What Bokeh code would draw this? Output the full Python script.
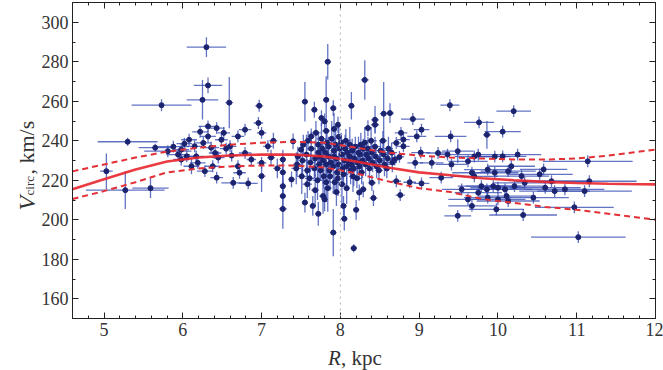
import numpy as np
from bokeh.plotting import figure
from bokeh.layouts import row, column
from bokeh.models import (ColumnDataSource, LinearAxis, SingleIntervalTicker, Span, Range1d,
                          CustomJSTickFormatter)
from bokeh.core.properties import value
from bokeh.embed import file_html
from bokeh.resources import INLINE

# ---------------- data ----------------
# outer-left group
R_left = [5.03, 5.27, 5.30, 5.59, 5.65, 5.73, 5.81, 5.88, 5.94, 5.98, 5.98, 6.02, 6.05, 6.08,
          6.11, 6.15, 6.17, 6.19, 6.22, 6.25, 6.26, 6.28, 6.30, 6.32, 6.32, 6.32, 6.36, 6.38,
          6.41, 6.43, 6.43, 6.45, 6.49, 6.52, 6.55, 6.59, 6.60, 6.62, 6.64, 6.70, 6.70, 6.72,
          6.79, 6.79, 6.83, 6.87, 6.96, 6.97, 7.00, 7.00, 7.00, 7.08, 7.12, 7.15, 7.20]
V_left = [224.6, 215.0, 239.5, 216.0, 236.5, 258.0, 234.7, 237.0, 233.0, 235.5, 230.5, 238.5, 232.1, 240.5,
          227.1, 237.2, 232.1, 228.8, 244.5, 260.7, 238.9, 224.6, 287.4, 268.0, 247.3, 242.2, 236.5, 227.1,
          233.8, 246.4, 221.3, 231.5, 240.5, 244.0, 236.0, 259.3, 237.2, 232.5, 218.7, 242.2, 227.1, 223.8,
          245.6, 233.8, 218.4, 230.5, 249.0, 257.7, 244.0, 228.8, 222.1, 237.2, 231.5, 240.0, 226.0]
eR_left = [0.08, 0.50, 0.38, 0.23, 0.21, 0.38, 0.30, 0.20, 0.15, 0.10, 0.10, 0.10, 0.12, 0.10,
           0.10, 0.10, 0.10, 0.10, 0.10, 0.20, 0.10, 0.10, 0.25, 0.18, 0.12, 0.10, 0.10, 0.10,
           0.08, 0.10, 0.08, 0.08, 0.08, 0.08, 0.08, 0.05, 0.08, 0.08, 0.15, 0.08, 0.08, 0.08,
           0.08, 0.08, 0.12, 0.06, 0.06, 0.05, 0.06, 0.06, 0.05, 0.06, 0.05, 0.05, 0.05]
eV_left = [9, 9.5, 2, 5, 2, 3, 3, 3, 3, 3, 3, 3, 3, 3,
           4, 3, 3, 3, 3, 10, 3, 3, 5, 4, 3, 3, 3, 3,
           3, 3, 3, 3, 3, 3, 3, 13, 3, 3, 3, 3, 3, 3,
           3, 3, 3, 3, 3, 3, 3, 3, 8, 3, 4, 4, 5]

# solar-circle group (outliers and column at 7.3 kpc)
R_mid = [7.27, 7.27, 7.27, 7.27, 7.27, 7.38, 7.40, 7.50, 7.55, 7.55, 7.63, 7.65, 7.67, 7.72,
         7.76, 7.80, 7.80, 7.82, 7.84, 7.91, 7.91, 7.97, 8.04, 8.05, 8.14, 8.17, 8.20, 8.24,
         8.29, 8.31, 8.35, 8.40, 8.42, 8.44, 8.44, 8.55, 8.63]
V_mid = [230.5, 224.0, 217.0, 212.0, 205.5, 220.4, 239.7, 235.5, 259.8, 208.7, 242.2, 207.0, 255.7, 203.0,
         251.5, 249.8, 210.3, 260.7, 280.0, 256.5, 193.5, 248.1, 207.0, 200.5, 257.7, 185.6, 205.0, 213.8,
         215.4, 270.8, 246.4, 218.7, 211.0, 250.6, 248.1, 253.7, 254.0]
eR_mid = [0.04, 0.04, 0.04, 0.04, 0.05, 0.04, 0.04, 0.04, 0.04, 0.04, 0.04, 0.04, 0.04, 0.04,
          0.04, 0.04, 0.04, 0.04, 0.04, 0.04, 0.04, 0.04, 0.04, 0.04, 0.04, 0.04, 0.04, 0.04,
          0.04, 0.05, 0.05, 0.05, 0.05, 0.05, 0.05, 0.05, 0.05]
eV_mid = [5, 6, 6, 8, 10, 4, 4, 4, 10, 5, 4, 5, 4, 6,
          4, 4, 6, 12, 9, 4, 12, 4, 5, 6, 7, 2, 5, 4,
          4, 10, 4, 4, 4, 7, 4, 16, 5]

# dense blob near R0
R_blob = [7.45, 7.46, 7.44, 7.52, 7.53, 7.51, 7.58, 7.57, 7.59, 7.58, 7.62, 7.63, 7.61,
          7.68, 7.67, 7.69, 7.68, 7.72, 7.73, 7.71, 7.72, 7.75, 7.76, 7.74, 7.78, 7.79, 7.77, 7.78,
          7.82, 7.81, 7.83, 7.82, 7.82, 7.85, 7.86, 7.84, 7.85, 7.88, 7.89, 7.87,
          7.92, 7.91, 7.93, 7.92, 7.92, 7.95, 7.96, 7.94, 7.95, 7.98, 7.99, 7.97, 7.98,
          8.02, 8.03, 8.01, 8.02, 8.05, 8.06, 8.04, 8.08, 8.09, 8.07, 8.08,
          8.12, 8.13, 8.11, 8.12, 8.15, 8.16, 8.14, 8.18, 8.19, 8.17, 8.22, 8.23, 8.21,
          8.25, 8.26, 8.24, 8.28, 8.29, 8.27, 8.32, 8.33, 8.31, 8.36, 8.37, 8.35,
          8.40, 8.41, 8.39, 8.45, 8.46, 8.44, 8.50, 8.51, 8.49, 8.55, 8.56, 8.54,
          8.60, 8.61, 8.59, 8.65, 8.66]
V_blob = [228, 232, 226, 230, 238, 222, 225, 233, 240, 218, 229, 236, 221,
          231, 226, 244, 215, 234, 228, 220, 238, 225, 241, 232, 230, 222, 236, 212,
          228, 234, 239, 219, 245, 232, 225, 216, 237, 229, 241, 222,
          235, 227, 219, 232, 246, 231, 224, 238, 214, 228, 236, 221, 242,
          233, 226, 239, 218, 230, 236, 223, 227, 234, 240, 216,
          232, 225, 229, 238, 235, 222, 228, 231, 237, 226, 229, 234, 221,
          233, 238, 227, 230, 236, 224, 228, 233, 239, 231, 226, 236,
          234, 229, 240, 232, 227, 237, 230, 235, 225, 233, 228, 240,
          231, 236, 226, 234, 229]
eR_blob = [0.05, 0.04, 0.06, 0.05, 0.04, 0.06, 0.05, 0.04, 0.05, 0.06, 0.04, 0.05, 0.06,
           0.05, 0.04, 0.06, 0.05, 0.04, 0.05, 0.06, 0.04, 0.05, 0.06, 0.04, 0.05, 0.04, 0.06, 0.05,
           0.04, 0.05, 0.06, 0.04, 0.05, 0.06, 0.04, 0.05, 0.04, 0.06, 0.05, 0.04,
           0.05, 0.04, 0.06, 0.05, 0.04, 0.06, 0.05, 0.04, 0.05, 0.06, 0.04, 0.05, 0.04,
           0.05, 0.06, 0.04, 0.05, 0.04, 0.05, 0.06, 0.04, 0.05, 0.06, 0.04,
           0.05, 0.04, 0.06, 0.05, 0.04, 0.05, 0.06, 0.04, 0.05, 0.06, 0.05, 0.04, 0.06,
           0.05, 0.06, 0.04, 0.05, 0.06, 0.04, 0.05, 0.06, 0.04, 0.06, 0.05, 0.04,
           0.06, 0.05, 0.07, 0.06, 0.05, 0.07, 0.06, 0.07, 0.05, 0.06, 0.07, 0.05,
           0.07, 0.06, 0.05, 0.07, 0.06]
eV_blob = [6, 5, 8, 7, 5, 9, 6, 10, 5, 7, 5, 8, 6,
           9, 5, 6, 8, 5, 7, 10, 6, 5, 8, 6, 12, 6, 5, 9,
           6, 7, 5, 10, 6, 8, 6, 12, 5, 5, 9, 7,
           6, 14, 6, 5, 8, 7, 5, 10, 7, 6, 5, 9, 6,
           8, 6, 5, 11, 6, 7, 5, 10, 5, 6, 8,
           5, 7, 6, 9, 6, 8, 5, 7, 5, 9, 6, 8, 5,
           5, 6, 7, 9, 5, 6, 6, 5, 8, 5, 7, 6,
           6, 5, 7, 5, 6, 5, 6, 5, 7, 5, 6, 5,
           5, 6, 5, 5, 5]

# outer-right group
R_right = [8.69, 8.71, 8.71, 8.75, 8.76, 8.77, 8.80, 8.80, 8.88, 8.92, 8.95, 8.97, 9.02, 9.03,
           9.03, 9.16, 9.24, 9.28, 9.36, 9.39, 9.40, 9.41, 9.49, 9.49, 9.54, 9.62, 9.62, 9.67,
           9.67, 9.70, 9.70, 9.75, 9.75, 9.76, 9.79, 9.86, 9.86, 9.87, 9.87, 9.94, 9.96, 9.96,
           9.98, 10.00, 10.00, 10.06, 10.06, 10.09, 10.11, 10.13, 10.13, 10.17, 10.20, 10.21,
           10.25, 10.30, 10.32, 10.34, 10.45, 10.53, 10.58, 10.60, 10.68, 10.72, 10.85, 10.97,
           11.02, 11.10, 11.14, 11.16]
V_right = [230.5, 238.9, 219.5, 231.8, 212.5, 244.0, 240.6, 237.2, 219.0, 251.0, 228.8, 242.2, 234.0, 245.6,
           218.4, 228.8, 233.8, 221.3, 233.0, 258.0, 242.2, 228.0, 234.7, 202.0, 215.4, 229.6, 210.3, 223.8,
           207.0, 222.0, 232.0, 233.0, 213.7, 249.3, 217.0, 243.0, 215.4, 225.4, 211.2, 217.0, 232.0, 223.8,
           205.3, 216.2, 210.3, 244.6, 232.1, 215.4, 212.0, 224.6, 209.5, 227.1, 255.0, 217.0,
           233.0, 222.1, 202.4, 218.7, 211.2, 223.0, 225.5, 216.2, 219.5, 214.5, 215.4, 206.3,
           191.2, 214.5, 229.6, 219.5]
eR_right = [0.06, 0.06, 0.06, 0.06, 0.06, 0.08, 0.08, 0.08, 0.08, 0.15, 0.10, 0.12, 0.12, 0.10,
            0.10, 0.15, 0.15, 0.15, 0.15, 0.12, 0.20, 0.20, 0.20, 0.17, 0.25, 0.25, 0.25, 0.25,
            0.30, 0.30, 0.25, 0.25, 0.30, 0.19, 0.30, 0.05, 0.35, 0.30, 0.30, 0.35, 0.20, 0.30,
            0.35, 0.35, 0.35, 0.23, 0.30, 0.35, 0.35, 0.35, 0.40, 0.30, 0.22, 0.40,
            0.30, 0.35, 0.43, 0.40, 0.45, 0.42, 0.30, 0.45, 0.45, 0.45, 0.50, 0.50,
            0.60, 0.60, 0.57, 0.60]
eV_right = [3, 3, 3, 3, 3, 3, 3, 3, 3, 3, 3, 3, 3, 3,
            3, 3, 3, 3, 3, 3, 3, 3, 6, 3, 3, 3, 3, 3,
            3, 3, 3, 3, 3, 3, 3, 7, 3, 3, 3, 3, 3, 3,
            3, 3, 3, 3, 3, 3, 3, 3, 3, 3, 3, 3,
            3, 3, 3, 3, 3, 3, 3, 3, 3, 3, 3, 3,
            3, 3, 3, 3]

# rotation-curve model and its confidence band
R_fit = [4.6, 5.0, 5.4, 5.8, 6.2, 6.6, 7.0, 7.4, 7.8, 8.2, 8.6, 9.0, 9.4, 9.8, 10.2, 10.6, 11.0, 11.4, 11.8, 12.0]
V_fit = [215.5, 220.5, 225.5, 229.5, 231.5, 232.5, 233.0, 233.0, 232.0, 229.5, 226.5, 224.0, 222.5, 221.0,
         220.0, 219.2, 218.6, 218.2, 218.0, 217.9]
V_up = [224.5, 228.0, 231.5, 234.5, 236.5, 238.0, 239.0, 239.5, 239.0, 236.5, 234.0, 232.5, 231.5, 231.0,
        230.5, 230.5, 231.0, 232.5, 234.5, 235.5]
V_lo = [210.5, 214.5, 219.0, 224.0, 226.0, 227.0, 227.5, 227.5, 226.5, 223.5, 219.5, 216.0, 214.0, 210.5,
        208.5, 206.5, 205.0, 203.0, 201.0, 200.0]

R0 = 8.0

FONT = "Liberation Serif"
INK = "#333333"

# ---------------- main panel ----------------
R = np.array(R_left + R_mid + R_blob + R_right, dtype=float)
V = np.array(V_left + V_mid + V_blob + V_right, dtype=float)
eR = np.array(eR_left + eR_mid + eR_blob + eR_right, dtype=float)
eV = np.array(eV_left + eV_mid + eV_blob + eV_right, dtype=float)

src = ColumnDataSource(dict(R=R, V=V, R0=R - eR, R1=R + eR, V0=V - eV, V1=V + eV))

LEFT_W = 38          # width of the strip holding the vertical axis title
MAIN_W = 663 - LEFT_W
MAIN_H = 343
XT_H = 370 - MAIN_H  # strip holding the horizontal axis title

p = figure(width=MAIN_W, height=MAIN_H, x_range=(4.6, 12), y_range=(150, 310),
           output_backend="svg", toolbar_location=None,
           min_border_left=71 - LEFT_W, min_border_right=8, min_border_top=2,
           min_border_bottom=MAIN_H - 318)
p.xgrid.visible = False
p.ygrid.visible = False
p.outline_line_color = "#222222"
p.background_fill_color = "white"

xt = SingleIntervalTicker(interval=1, num_minor_ticks=5)
yt = SingleIntervalTicker(interval=20, num_minor_ticks=2)
p.xaxis.ticker = xt
p.yaxis.ticker = yt

def style(ax, labels=True):
    ax.major_tick_in = 6
    ax.major_tick_out = 0
    ax.minor_tick_in = 3
    ax.minor_tick_out = 0
    ax.axis_line_color = "#222222"
    ax.major_tick_line_color = "#222222"
    ax.minor_tick_line_color = "#222222"
    ax.major_label_text_font = FONT
    ax.major_label_text_color = INK
    if labels:
        ax.major_label_text_font_size = "18px"
        ax.major_label_standoff = 4
    else:
        ax.formatter = CustomJSTickFormatter(code="return ''")
        ax.major_label_text_font_size = "1px"
        ax.major_label_standoff = 0

style(p.xaxis[0])
style(p.yaxis[0])
top = LinearAxis(ticker=xt)
right = LinearAxis(ticker=yt)
style(top, False)
style(right, False)
p.add_layout(top, "above")
p.add_layout(right, "right")

p.add_layout(Span(location=R0, dimension="height", line_color="#b0b0b0",
                  line_dash="dotted", line_width=1))

err_col = "#3b50b4"
p.segment(x0="R0", y0="V", x1="R1", y1="V", source=src, line_color=err_col,
          line_width=1.3, line_alpha=0.8)
p.segment(x0="R", y0="V0", x1="R", y1="V1", source=src, line_color=err_col,
          line_width=1.3, line_alpha=0.8)
p.scatter(x="R", y="V", source=src, marker="circle", size=5,
          fill_color="#1c2470", line_color="#1c2470")

p.line(R_fit, V_fit, line_color="#e8262e", line_width=2.6, line_alpha=0.9)
p.line(R_fit, V_up, line_color="#e23036", line_width=2, line_dash="6 4")
p.line(R_fit, V_lo, line_color="#e23036", line_width=2, line_dash="6 4")

# ---------------- axis-title strips ----------------
def strip(width, height, x_range, y_range, border_left=0, border_right=0):
    s = figure(width=width, height=height, x_range=x_range, y_range=y_range,
               output_backend="svg", toolbar_location=None,
               x_axis_type=None, y_axis_type=None,
               min_border_left=border_left, min_border_right=border_right,
               min_border_top=0, min_border_bottom=0)
    s.outline_line_color = None
    s.xgrid.visible = False
    s.ygrid.visible = False
    return s

# horizontal title: shares the R scale of the main panel
xs = strip(MAIN_W, XT_H, p.x_range, Range1d(0, XT_H), 71 - LEFT_W, 8)
xs.text(x=[7.844], y=[XT_H - 14], text=["R"], text_font=value(FONT),
        text_font_style=value("italic"), text_font_size=value("21px"),
        text_color=INK, text_align=value("left"), text_baseline=value("alphabetic"))
xs.text(x=[8.007], y=[XT_H - 14], text=[", kpc"], text_font=value(FONT),
        text_font_style=value("normal"), text_font_size=value("21px"),
        text_color=INK, text_align=value("left"), text_baseline=value("alphabetic"))

# vertical title: page-pixel coordinates (y downwards)
ys = strip(LEFT_W, 370, Range1d(0, LEFT_W), Range1d(370, 0))
ys.text(x=[26], y=[210], text=["V"], angle=[np.pi / 2], text_font=value(FONT),
        text_font_style=value("italic"), text_font_size=value("24px"),
        text_color=INK, text_align=value("left"), text_baseline=value("alphabetic"))
ys.text(x=[29], y=[195], text=["circ"], angle=[np.pi / 2], text_font=value(FONT),
        text_font_style=value("normal"), text_font_size=value("13px"),
        text_color=INK, text_align=value("left"), text_baseline=value("alphabetic"))
ys.text(x=[26], y=[174], text=[", km/s"], angle=[np.pi / 2], text_font=value(FONT),
        text_font_style=value("normal"), text_font_size=value("22px"),
        text_color=INK, text_align=value("left"), text_baseline=value("alphabetic"))

layout = row(ys, column(p, xs))
open("out.html", "w").write(file_html(layout, INLINE))
